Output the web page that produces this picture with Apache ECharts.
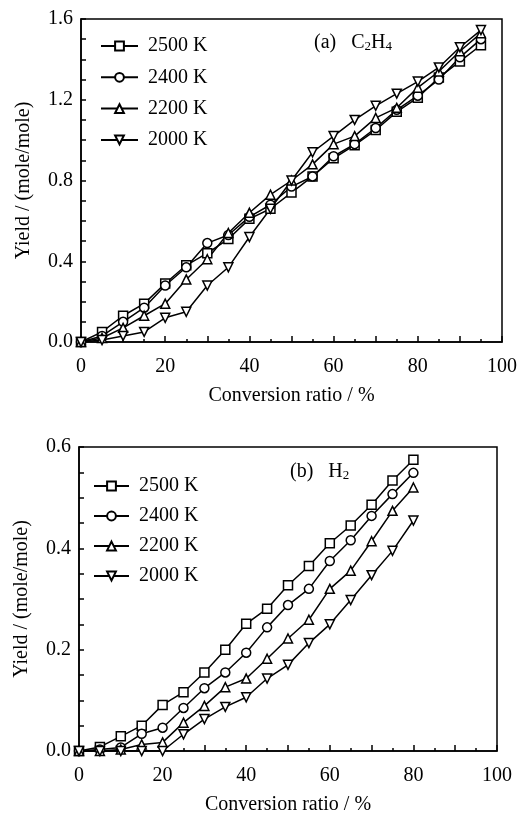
<!DOCTYPE html>
<html>
	<head>
		<meta charset="utf-8" />
		<title>Yield vs conversion ratio</title>
		<script type="text/javascript" src="https://cdn.jsdelivr.net/npm/echarts@6/dist/echarts.min.js"></script>
		<style>
			html, body { margin: 0; padding: 0; background: #fff; }
		</style>
	</head>
	<body>
		<div id="main" style="width: 523px;height: 816px;"></div>
	</body>
	<script type="text/javascript">
		// 温度（图例）
		var temps = ['2500 K', '2400 K', '2200 K', '2000 K'];
		var symbols = ['rect', 'circle', 'triangle', 'path://M0,0 L10,0 L5,9 Z'];

		// (a) C2H4
		var convA = [0, 5, 10, 15, 20, 25, 30, 35, 40, 45, 50, 55, 60, 65, 70, 75, 80, 85, 90, 95];
		var c2h4_2500 = [0, 0.05, 0.13, 0.19, 0.29, 0.38, 0.44, 0.51, 0.61, 0.66, 0.74, 0.82, 0.91, 0.975, 1.05, 1.14, 1.21, 1.31, 1.39, 1.47];
		var c2h4_2400 = [0, 0.03, 0.10, 0.17, 0.28, 0.37, 0.49, 0.53, 0.62, 0.68, 0.77, 0.82, 0.92, 0.98, 1.06, 1.15, 1.22, 1.30, 1.41, 1.50];
		var c2h4_2200 = [0, 0.02, 0.07, 0.13, 0.19, 0.31, 0.41, 0.54, 0.64, 0.73, 0.80, 0.88, 0.98, 1.02, 1.11, 1.16, 1.26, 1.34, 1.44, 1.53];
		var c2h4_2000 = [0, 0.01, 0.03, 0.05, 0.12, 0.15, 0.28, 0.37, 0.52, 0.66, 0.80, 0.94, 1.02, 1.10, 1.17, 1.23, 1.29, 1.36, 1.46, 1.545];

		// (b) H2
		var convB = [0, 5, 10, 15, 20, 25, 30, 35, 40, 45, 50, 55, 60, 65, 70, 75, 80];
		var h2_2500 = [0, 0.008, 0.029, 0.05, 0.091, 0.116, 0.155, 0.20, 0.251, 0.281, 0.327, 0.365, 0.41, 0.445, 0.486, 0.534, 0.575];
		var h2_2400 = [0, 0.003, 0.007, 0.034, 0.046, 0.085, 0.124, 0.155, 0.194, 0.244, 0.288, 0.32, 0.375, 0.416, 0.464, 0.507, 0.549];
		var h2_2200 = [0, 0, 0.003, 0.013, 0.017, 0.056, 0.089, 0.126, 0.143, 0.182, 0.222, 0.259, 0.32, 0.356, 0.414, 0.474, 0.52];
		var h2_2000 = [0, 0, 0, 0, 0, 0.033, 0.063, 0.087, 0.106, 0.143, 0.17, 0.213, 0.25, 0.298, 0.347, 0.395, 0.455];

		var seriesA = [c2h4_2500, c2h4_2400, c2h4_2200, c2h4_2000];
		var seriesB = [h2_2500, h2_2400, h2_2200, h2_2000];

		var font = 'Liberation Serif';

		function pairs(xs, ys) {
			var out = [];
			for (var i = 0; i < xs.length; i++) {
				out.push([xs[i], ys[i]]);
			}
			return out;
		}

		function makeX(gridIndex) {
			return {
				type: 'value',
				gridIndex: gridIndex,
				min: 0,
				max: 100,
				interval: 10,
				name: 'Conversion ratio / %',
				nameLocation: 'middle',
				nameGap: 44,
				nameTextStyle: { color: '#000', fontSize: 20, fontFamily: font },
				axisLine: { lineStyle: { color: '#000', width: 1.5 } },
				axisTick: { inside: true, length: 6, lineStyle: { color: '#000', width: 1.5 } },
				minorTick: { show: true, splitNumber: 2, length: 3, lineStyle: { color: '#000', width: 1.5 } },
				splitLine: { show: false },
				axisLabel: {
					color: '#000', fontSize: 20, fontFamily: font, margin: 15,
					formatter: function (v) { return v % 20 === 0 ? String(v) : ''; }
				}
			};
		}

		function makeY(gridIndex, max, interval) {
			return {
				type: 'value',
				gridIndex: gridIndex,
				min: 0,
				max: max,
				interval: interval,
				name: 'Yield / (mole/mole)',
				nameLocation: 'middle',
				nameGap: 47,
				nameTextStyle: { color: '#000', fontSize: 20, fontFamily: font },
				axisLine: { lineStyle: { color: '#000', width: 1.5 } },
				axisTick: { inside: true, length: 5, lineStyle: { color: '#000', width: 1.5 } },
				minorTick: { show: true, splitNumber: 4, length: 5, lineStyle: { color: '#000', width: 1.5 } },
				splitLine: { show: false },
				axisLabel: {
					color: '#000', fontSize: 20, fontFamily: font, margin: 8,
					formatter: function (v) { return v.toFixed(1); }
				}
			};
		}

		var series = [];
		for (var k = 0; k < temps.length; k++) {
			[[seriesA, convA, 0], [seriesB, convB, 1]].forEach(function (p) {
				series.push({
					name: temps[k],
					type: 'line',
					xAxisIndex: p[2],
					yAxisIndex: p[2],
					symbol: symbols[k],
					symbolSize: 9,
					showAllSymbol: true,
					lineStyle: { color: '#000', width: 1.5 },
					itemStyle: { color: '#fff', borderColor: '#000', borderWidth: 1.5 },
					emphasis: { disabled: true },
					data: pairs(p[1], p[0][k])
				});
			});
		}

		function makeLegend(left, top, gap, width) {
			return {
				orient: 'vertical',
				left: left,
				top: top,
				itemWidth: width,
				itemHeight: 11,
				itemGap: gap,
				selectedMode: false,
				data: temps,
				textStyle: { color: '#000', fontSize: 20, fontFamily: font, padding: [0, 0, 0, 5] }
			};
		}

		var chart = echarts.init(document.getElementById('main'));
		chart.setOption({
			animation: false,
			backgroundColor: '#fff',
			grid: [
				{ left: 81, top: 19, width: 421, height: 323, show: true, borderColor: '#000', borderWidth: 1.5, backgroundColor: 'transparent' },
				{ left: 79, top: 447, width: 418, height: 310, show: true, borderColor: '#000', borderWidth: 1.5, backgroundColor: 'transparent' }
			],
			xAxis: [makeX(0), makeX(1)],
			yAxis: [makeY(0, 1.6, 0.4), makeY(1, 0.6, 0.2)],
			legend: [makeLegend(95, 31, 11.3, 37), makeLegend(88, 471, 10, 35)],
			graphic: [
				{
					type: 'text', left: 314, top: 33,
					style: {
						text: '(a)   {n|C}{s|2}{n|H}{s|4}',
						fill: '#000', font: '20px ' + font,
						rich: { n: { fontSize: 20, fontFamily: font }, s: { fontSize: 13, fontFamily: font, verticalAlign: 'bottom', padding: [8, 0, 0, 0] } }
					}
				},
				{
					type: 'text', left: 290, top: 462,
					style: {
						text: '(b)   {n|H}{s|2}',
						fill: '#000', font: '20px ' + font,
						rich: { n: { fontSize: 20, fontFamily: font }, s: { fontSize: 13, fontFamily: font, verticalAlign: 'bottom', padding: [8, 0, 0, 0] } }
					}
				}
			],
			series: series
		});
	</script>
</html>
